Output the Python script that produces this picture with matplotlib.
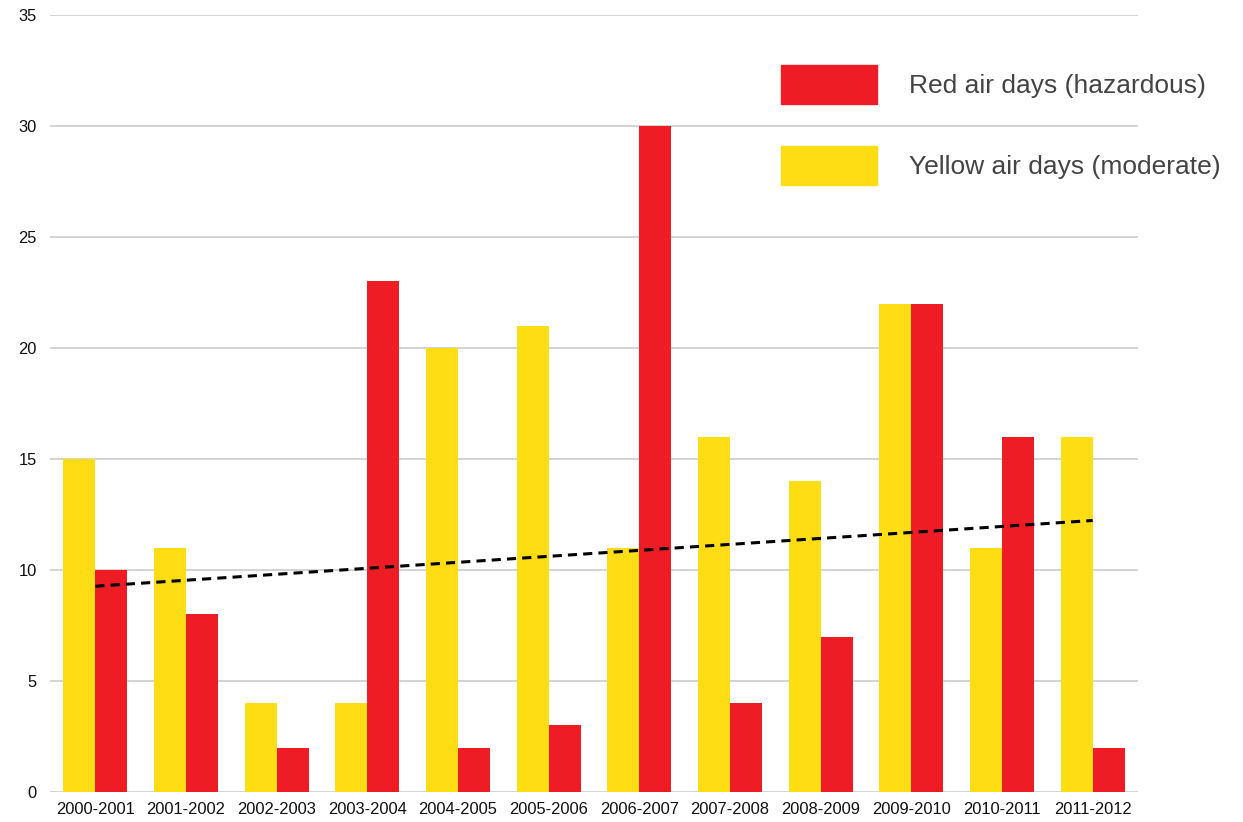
import numpy as np
import matplotlib.pyplot as plt
from matplotlib.patches import Patch

seasons = ['2000-2001', '2001-2002', '2002-2003', '2003-2004', '2004-2005', '2005-2006',
           '2006-2007', '2007-2008', '2008-2009', '2009-2010', '2010-2011', '2011-2012']
yellow_days = [15, 11, 4, 4, 20, 21, 11, 16, 14, 22, 11, 16]
red_days = [10, 8, 2, 23, 2, 3, 30, 4, 7, 22, 16, 2]

YELLOW = '#FFDD15'
RED = '#EE1C25'

plt.rcParams['font.family'] = ['Liberation Sans', 'DejaVu Sans']

fig = plt.figure(figsize=(12.43, 8.22), dpi=100)
ax = fig.add_axes([50 / 1243, 1 - 792 / 822, 1088 / 1243, 777 / 822])

x = np.arange(len(seasons))
w = 0.353
ax.bar(x - w / 2, yellow_days, width=w, color=YELLOW, zorder=2)
ax.bar(x + w / 2, red_days, width=w, color=RED, zorder=2)

# linear trend of the red days
k, b = np.polyfit(x, red_days, 1)
ax.plot(x, k * x + b, color='black', linestyle=(0, (3, 2)), linewidth=2.2, zorder=3)

ax.set_xlim(-0.5, len(seasons) - 0.5)
ax.set_ylim(0, 35)
ax.set_yticks(range(0, 36, 5))
ax.set_xticks(x)
ax.set_xticklabels(seasons)
ax.yaxis.grid(True, color='#cccccc', linewidth=1.2, zorder=0)
ax.set_axisbelow(True)
for s in ax.spines.values():
    s.set_visible(False)
ax.tick_params(axis='both', length=0, labelsize=11.9, colors='#111111')
ax.tick_params(axis='y', pad=9.4)
ax.tick_params(axis='x', pad=7)

handles = [Patch(color=RED), Patch(color=YELLOW)]
fig.legend(handles, ['Red air days (hazardous)', 'Yellow air days (moderate)'],
           loc='upper left', bbox_to_anchor=(781 / 1243, 1 - 65 / 822),
           bbox_transform=fig.transFigure, frameon=False, fontsize=19,
           handlelength=3.64, handleheight=1.88, handletextpad=1.21,
           labelspacing=1.61, borderpad=0, borderaxespad=0, labelcolor='#444444')

fig.savefig('out.png', dpi=100)
